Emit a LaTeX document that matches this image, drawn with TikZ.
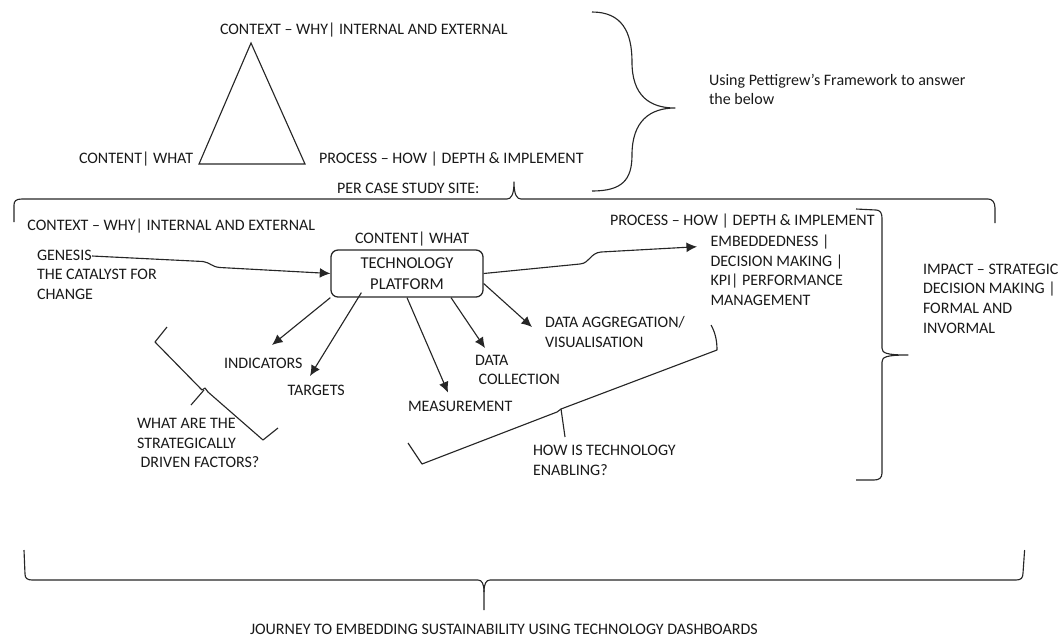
\documentclass[tikz,border=0pt]{standalone}
\usepackage{fontspec}
\setmainfont{Carlito}
\usetikzlibrary{arrows.meta}
\begin{document}
\begin{tikzpicture}[x=0.025cm,y=-0.025cm,
  lbl/.style={font=\fontsize{11.38}{13.94}\selectfont, inner sep=0pt, outer sep=0pt,
    align=left, anchor=north west, text=black!90,
    execute at begin node={\rule{0pt}{9.5pt}}},
  ln/.style={line width=0.8pt, draw=black!85},
  brace/.style={ln, line join=round},
  arr/.style={ln, -{Latex[length=7.5pt,width=7pt]}},
  platform/.style={draw=black!85, line width=0.9pt, rounded corners=5pt,
    minimum width=3.8cm, minimum height=1.175cm, align=center, inner sep=0pt,
    font=\fontsize{11.8}{14.7}\selectfont, text=black!90}
  ]
\useasboundingbox (0,0) rectangle (1064,641);

% ---------- top: Pettigrew triangle ----------
\node[lbl] (ctx1) at (220,20.8) {CONTEXT – WHY| INTERNAL AND EXTERNAL};
\node[lbl] (cnt1) at (79,149.8) {CONTENT| WHAT};
\node[lbl] (prc1) at (319,149.8) {PROCESS – HOW | DEPTH \& IMPLEMENT};
\node[lbl] (pcs) at (337,179.8) {PER CASE STUDY SITE:};
\node[lbl] (pet) at (709,73.8) {Using Pettigrew’s Framework to answer\\the below};
\draw[ln, line join=miter] (251,43) -- (199,164) -- (305,164) -- cycle;

% top right brace
\draw[brace] (592,12) .. controls (622,12) and (632,32) .. (632,62)
  .. controls (632,96) and (650,108) .. (675,108)
  .. controls (650,108) and (632,121) .. (632,155)
  .. controls (632,180) and (622,191) .. (592,191);

% brace under "per case study site"
\draw[brace] (14,222) -- (14,205) .. controls (14,201) and (16,199) .. (22,199)
  -- (507,199) .. controls (511,199) and (514,195) .. (514,182)
  .. controls (514,195) and (517,199) .. (521,199)
  -- (988,199) .. controls (992,199) and (995,202) .. (995,208) -- (995,223);

% ---------- case study site ----------
\node[lbl] (ctx2) at (27.5,216.8) {CONTEXT – WHY| INTERNAL AND EXTERNAL};
\node[lbl] (cnt2) at (355,229.8) {CONTENT| WHAT};
\node[lbl] (prc2) at (610,211.8) {PROCESS – HOW | DEPTH \& IMPLEMENT};
\node[lbl] (gen) at (37,250) {GENESIS\\THE CATALYST FOR\\CHANGE};
\node[lbl] (emb) at (710.5,235) {EMBEDDEDNESS |\\DECISION MAKING |\\KPI| PERFORMANCE\\MANAGEMENT};
\node[lbl] (imp) at (923,263.8) {IMPACT – STRATEGIC\\DECISION MAKING |\\FORMAL AND\\INVORMAL};

\node[platform] (tp) at (407,273.5) {TECHNOLOGY\\PLATFORM};

\node[lbl] (ind) at (224,354.8) {INDICATORS};
\node[lbl] (tgt) at (287.5,381.8) {TARGETS};
\node[lbl] (mea) at (408,398.5) {MEASUREMENT};
\node[lbl] (dat) at (475,354.8) {DATA\\\ COLLECTION};
\node[lbl] (agg) at (545,316.8) {DATA AGGREGATION/\\VISUALISATION};
\node[lbl] (what) at (137,418.5) {WHAT ARE THE\\STRATEGICALLY\\\ DRIVEN FACTORS?};
\node[lbl] (how) at (533,445) {HOW IS TECHNOLOGY\\ENABLING?};
\node[lbl] (jou) at (250,621.5) {JOURNEY TO EMBEDDING SUSTAINABILITY USING TECHNOLOGY DASHBOARDS};

% connector ends
\coordinate (g0) at (92,256);
\coordinate (e1) at (697,246.7);
\coordinate (indT) at (272,345);
\coordinate (tgtT) at (310,376);
\coordinate (meaT) at (448,392.5);
\coordinate (datT) at (485,348);
\coordinate (aggT) at (532,327);

% arrows
\draw[arr] (g0) -- (203,261.5) .. controls (210,262.5) and (212,267) .. (220,267.5) -- (tp.west);
\draw[arr] (tp.east) -- (580,264) .. controls (590,263) and (590,253) .. (601,252) -- (e1);
\draw[arr] (tp.south west) -- (indT);
\draw[arr] ([xshift=0.775cm,yshift=0.125cm]tp.south west) -- (tgtT);
\draw[arr] (tp.south) -- (meaT);
\draw[arr] ([xshift=1.1cm]tp.south) -- (datT);
\draw[arr] ([yshift=-0.25cm]tp.east) -- (aggT);

% right brace (impact)
\draw[brace] (856,209) -- (876,210) .. controls (880,210) and (882,213) .. (882,218)
  -- (882,348) .. controls (882,353) and (886,355) .. (908,355)
  .. controls (886,355) and (882,357) .. (882,362)
  -- (882,473) .. controls (882,478) and (879,480) .. (874,480) -- (856,480);

% tilted brace: strategically driven factors
\draw[brace] (167,327) -- (155,342) -- (202,390) -- (205,388) -- (208,392) -- (263,440) -- (278,428);
\draw[brace] (204,390) -- (191,405);

% tilted brace: how is technology enabling
\draw[brace] (711,325) .. controls (715,332) and (717,340) .. (717,350) -- (561,409) -- (565,437);
\draw[brace] (561,409) -- (557,412) -- (422,464) -- (408,443);

% bottom brace
\draw[brace] (24,550) -- (25,574) .. controls (25,578) and (27,580) .. (32,580)
  -- (478,580) .. controls (482,580) and (484,584) .. (484,592) -- (484,610);
\draw[brace] (484,592) .. controls (484,584) and (486,580) .. (490,580)
  -- (1016,580) .. controls (1021,580) and (1023,578) .. (1023,573) -- (1024.6,550);
\end{tikzpicture}
\end{document}
